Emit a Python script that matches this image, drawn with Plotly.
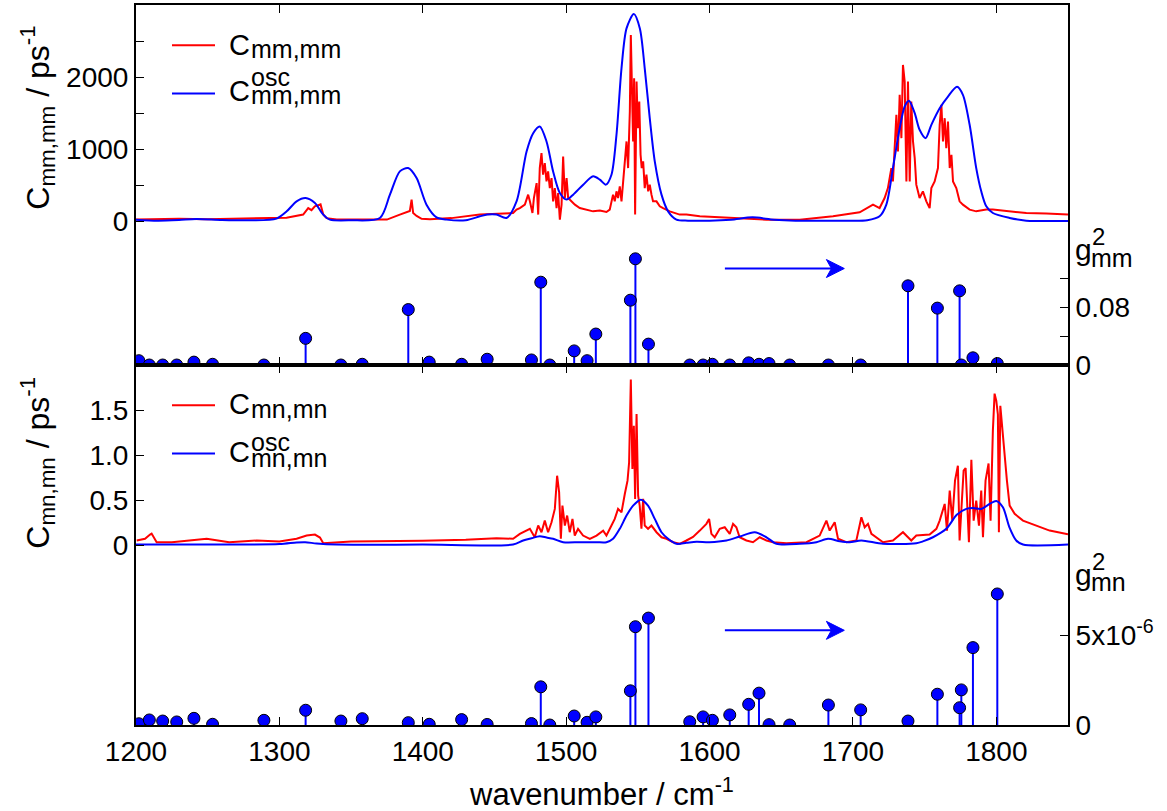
import plotly.graph_objects as go

# ---------------- data ----------------
# normal-mode frequencies (cm^-1) and couplings
modes = [1202, 1209.3, 1218.6, 1228.4, 1240.4, 1253.4, 1289.2, 1318.3, 1342.9, 1357.8,
         1389.9, 1404.5, 1427.1, 1444.9, 1475.8, 1482.3, 1488.6, 1505.6, 1514.6, 1520.7,
         1544.8, 1548.3, 1557.4, 1586.2, 1595.5, 1602.0, 1614.1, 1627.3, 1634.5, 1641.5,
         1655.9, 1682.9, 1705.4, 1738.4, 1758.9, 1774.4, 1775.6, 1783.7, 1800.7]
g2_mm = [0.006, 0.0, 0.0, 0.0, 0.004, 0.001, 0.0, 0.037, 0.0, 0.001,
         0.077, 0.004, 0.001, 0.008, 0.007, 0.115, 0.0, 0.0196, 0.006, 0.043,
         0.090, 0.1475, 0.029, 0.0, 0.0, 0.001, 0.0, 0.003, 0.001, 0.002,
         0.0, 0.0, 0.0, 0.110, 0.079, 0.103, 0.0, 0.010, 0.002]
g2_mn = [0.07e-6, 0.28e-6, 0.22e-6, 0.17e-6, 0.37e-6, 0.04e-6, 0.26e-6, 0.82e-6, 0.22e-6, 0.35e-6,
         0.13e-6, 0.04e-6, 0.30e-6, 0.03e-6, 0.08e-6, 2.12e-6, 0.0, 0.50e-6, 0.15e-6, 0.45e-6,
         1.90e-6, 5.46e-6, 5.94e-6, 0.18e-6, 0.45e-6, 0.26e-6, 0.56e-6, 1.15e-6, 1.77e-6, 0.02e-6,
         0.0, 1.11e-6, 0.84e-6, 0.22e-6, 1.71e-6, 0.96e-6, 1.95e-6, 4.30e-6, 7.28e-6]

# C_mm,mm (MD spectrum), ps^-1
wn_mm = [1200, 1215, 1230, 1250, 1270, 1290, 1300, 1305, 1316.6, 1320.1, 1322.4, 1324.7, 1327.1,
         1328.7, 1330.6, 1332.9, 1340, 1360, 1375, 1384, 1388.7, 1391, 1392.2, 1393.3, 1395.7,
         1399.2, 1405, 1420, 1439.8, 1451.4, 1463, 1465.4, 1467.7, 1471.2, 1473.5, 1474.7,
         1476.5, 1477.5, 1479.4, 1480.5, 1481.6, 1482.8, 1483.9, 1485.1, 1486.3, 1487.4, 1488.6,
         1489.8, 1490.9, 1492.1, 1493.3, 1494.4, 1495.6, 1496.8, 1497.9, 1499.1, 1500.3, 1501.4,
         1503.8, 1506.1, 1509.5, 1514.2, 1518.8, 1523.5, 1528.1, 1530.4, 1531.6, 1532.7, 1533.9,
         1535.1, 1536.2, 1537.4, 1538.6, 1539.7, 1540.9, 1542.1, 1543.2, 1544.4, 1545.1, 1546.0,
         1546.7, 1547.4, 1548.1, 1549.1, 1550.0, 1551.0, 1551.9, 1552.7, 1553.7, 1554.8, 1556.0,
         1557.2, 1558.3, 1559.5, 1560.6, 1563, 1565.3, 1567.6, 1572.3, 1579.2, 1583.9, 1593.2,
         1616.4, 1639.7, 1662.9, 1686.1, 1704.7, 1714, 1718.6, 1722.1, 1724.4, 1726.8, 1727.9,
         1729.1, 1730.3, 1731.4, 1732.6, 1733.8, 1734.9, 1736.1, 1737.3, 1738.4, 1739.6, 1740.7,
         1741.9, 1743.1, 1744.2, 1746.5, 1748.8, 1751.2, 1753.5, 1754.7, 1757, 1759.3, 1760.5,
         1761.7, 1762.8, 1764, 1765.1, 1766.3, 1767.5, 1768.7, 1769.8, 1772.1, 1774.4, 1776.7,
         1781.4, 1786, 1793, 1797.6, 1809.3, 1820.9, 1834.9, 1850]
c_mm = [20, 25, 30, 25, 30, 35, 40, 45, 89, 180, 150, 204, 218,
        230, 90, 40, 20, 15, 20, 89, 125, 140, 297, 110, 70,
        30, 25, 40, 89, 102, 111, 158, 180, 227, 366, 273,
        111, 319, 527, 89, 735, 943, 643, 804, 550, 689, 457,
        596, 273, 457, 180, 388, 19, 227, 897, 319, 596, 319,
        273, 227, 180, 158, 134, 144, 125, 158, 297, 366, 273,
        412, 319, 481, 273, 505, 828, 1105, 735, 1521, 2584, 1891,
        1105, 1982, 89, 1937, 1289, 1659, 920, 735, 828, 457, 643,
        412, 505, 366, 273, 273, 204, 180, 134, 89, 89, 65,
        42, 19, 19, 65, 120, 227, 180, 319, 457, 735, 550,
        1105, 1475, 966, 1752, 1151, 2168, 1937, 550, 1937, 550, 1659,
        1105, 873, 505, 319, 412, 273, 180, 457, 550, 735, 1336,
        1614, 1105, 1428, 1012, 1382, 735, 920, 550, 457, 273, 227,
        158, 134, 158, 158, 134, 111, 103, 89]

# C^osc_mm,mm
wn_mm_osc = [1200, 1215, 1230, 1242, 1260, 1280, 1298, 1305.1, 1312, 1318.3, 1324.8, 1330.6, 1335.2,
             1350, 1370.1, 1377.1, 1384, 1389.8, 1395.7, 1402.6, 1409.6, 1416.6, 1430, 1439.8,
             1444.9, 1451.4, 1458.4, 1465.4, 1472.4, 1477, 1481.6, 1486.3, 1490.9, 1495.6, 1500.3,
             1504.9, 1511.9, 1518.8, 1523.5, 1527.7, 1531.6, 1535.1, 1538.6, 1542.1, 1547.2, 1551.4,
             1554.8, 1558.3, 1561.8, 1566.5, 1571.1, 1576.9, 1585, 1600, 1615, 1630, 1645, 1660,
             1690, 1710, 1718.6, 1723.3, 1727.9, 1732.6, 1736.1, 1739.1, 1743.1, 1746.5, 1750.7,
             1754.7, 1760.5, 1766.3, 1772.6, 1776.7, 1781.4, 1786, 1789.5, 1793, 1797.6, 1809.3,
             1820.9, 1850]
c_mm_osc = [19, 5, 14, 28, 14, 10, 33, 134, 273, 319, 250, 89, 19,
            10, 42, 366, 689, 735, 596, 227, 51, 19, 10, 65,
            89, 89, 42, 273, 966, 1220, 1313, 1105, 689, 388, 297,
            366, 505, 620, 574, 505, 643, 1198, 2121, 2675, 2875, 2675,
            2121, 1428, 828, 366, 134, 19, 5, 5, 19, 51, 19, 5,
            5, 10, 65, 227, 735, 1289, 1590, 1669, 1497, 1267, 1151,
            1336, 1566, 1729, 1863, 1752, 1336, 735, 412, 204, 111, 42,
            5, 0]

# C_mn,mn (MD spectrum), ps^-1
wn_mn = [1200.5, 1206.3, 1209.8, 1210.9, 1214.4, 1225, 1249.3, 1265, 1284.1, 1300, 1312, 1319,
         1324.8, 1328.3, 1330.6, 1350, 1400, 1430, 1451.4, 1463, 1467.7, 1474.7, 1478.1, 1480.5,
         1482.8, 1485.1, 1487.4, 1489.8, 1492.1, 1493.7, 1495.1, 1496.3, 1497.4, 1499.1, 1500.7,
         1502.5, 1504.4, 1506.0, 1508.3, 1511.8, 1516.5, 1521.2, 1525.8, 1528.1, 1531.6, 1533.9,
         1536.2, 1538.6, 1540.9, 1542.8, 1543.9, 1545.1, 1546.2, 1547.2, 1548.1, 1549.1, 1550.2,
         1551.3, 1552.5, 1553.7, 1554.8, 1557.1, 1559.5, 1563, 1566.5, 1570, 1574.6, 1579.2,
         1583.9, 1588.5, 1593.2, 1597.8, 1599.7, 1601.3, 1603.6, 1607.1, 1610.6, 1614.1, 1616.4,
         1618.7, 1621, 1625.7, 1630.3, 1635, 1639.7, 1644.3, 1653.6, 1667.6, 1676.8, 1681.5,
         1683.8, 1687.3, 1689.6, 1695.4, 1702.4, 1705.9, 1708.2, 1710.5, 1712.9, 1716.3, 1721,
         1727.9, 1734.9, 1740.7, 1744.2, 1753.5, 1758.2, 1760.5, 1762.4, 1764, 1765.6, 1767.5,
         1769.3, 1771.2, 1773.2, 1774.4, 1776, 1777.2, 1778.6, 1779.8, 1780.9, 1782.6, 1784.2,
         1786, 1787.9, 1789.5, 1790.7, 1792.5, 1794.6, 1796, 1797.6, 1798.8, 1800, 1801.1, 1801.8,
         1802.8, 1804.2, 1805.8, 1807.4, 1809.3, 1812.8, 1818.6, 1827.9, 1837.2, 1850]
c_mn = [0.05, 0.069, 0.116, 0.127, 0.031, 0.03, 0.069, 0.03, 0.05, 0.04, 0.069, 0.105,
        0.116, 0.083, 0.02, 0.039, 0.047, 0.058, 0.075, 0.069, 0.124, 0.18, 0.086, 0.216,
        0.142, 0.271, 0.142, 0.253, 0.401, 0.77, 0.585, 0.069, 0.438, 0.216, 0.327,
        0.142, 0.29, 0.105, 0.18, 0.105, 0.069, 0.105, 0.16, 0.105, 0.216, 0.29,
        0.401, 0.363, 0.567, 0.715, 0.917, 1.84, 0.844, 1.324, 0.512, 1.454, 0.548,
        0.438, 0.18, 0.512, 0.216, 0.18, 0.216, 0.142, 0.086, 0.069, 0.031, 0.013,
        0.05, 0.09, 0.16, 0.235, 0.29, 0.124, 0.086, 0.18, 0.197, 0.124, 0.235,
        0.197, 0.086, 0.05, 0.031, 0.086, 0.05, 0.031, 0.02, 0.031, 0.105, 0.271,
        0.16, 0.253, 0.069, 0.031, 0.05, 0.308, 0.197, 0.235, 0.124, 0.086, 0.031,
        0.05, 0.142, 0.05, 0.105, 0.116, 0.18, 0.271, 0.363, 0.456, 0.16, 0.604,
        0.271, 0.715, 0.881, 0.05, 0.493, 0.826, 0.855, 0.382, 0.031, 0.947, 0.271,
        0.493, 0.216, 0.604, 0.086, 0.715, 0.906, 0.271, 1.27, 1.682, 1.60, 1.45, 0.142,
        1.546, 1.27, 1.05, 0.715, 0.438, 0.346, 0.271, 0.216, 0.16, 0.12]

# C^osc_mn,mn
wn_mn_osc = [1200, 1250, 1300, 1312, 1318, 1326, 1340, 1400, 1463, 1470, 1475.8, 1481.6, 1486.3,
             1490.9, 1497.9, 1509.5, 1521.2, 1528.1, 1532.7, 1537.4, 1542.1, 1546.7, 1552.1, 1557.1,
             1561.8, 1566.5, 1571.1, 1576.9, 1583.9, 1590.9, 1600, 1611.8, 1621, 1631.5, 1639.7,
             1646.6, 1662.9, 1674.5, 1682.6, 1690.8, 1697.7, 1705.9, 1721, 1744.2, 1748.8, 1755.8,
             1765.1, 1772.4, 1779.1, 1783.7, 1789.5, 1795.3, 1800, 1804.6, 1809.3, 1813.9, 1818.6,
             1850]
c_mn_osc = [0.005, 0.005, 0.01, 0.028, 0.031, 0.017, 0.005, 0.005, 0.005, 0.05, 0.075, 0.098, 0.083,
            0.069, 0.031, 0.031, 0.031, 0.031, 0.069, 0.18, 0.327, 0.438, 0.504, 0.438,
            0.29, 0.142, 0.069, 0.013, 0.024, 0.035, 0.031, 0.05, 0.094, 0.142, 0.086,
            0.013, 0.013, 0.031, 0.069, 0.042, 0.031, 0.05, 0.013, 0.02, 0.04, 0.086,
            0.18, 0.335, 0.401, 0.41, 0.401, 0.456, 0.49, 0.419, 0.19, 0.05, 0.005,
            0.005]

xticks = [1200, 1300, 1400, 1500, 1600, 1700, 1800]
ytick_mm = [0, 1000, 2000]
ytick_mm_minor = [500, 1500, 2500]
ytick_g_mm = [0, 0.08]
ytick_g_mm_text = ["0", "0.08"]
ytick_g_mm_minor = [0.04, 0.12]
ytick_mn = [0, 0.5, 1.0, 1.5]
ytick_mn_text = ["0", "0.5", "1.0", "1.5"]
ytick_g_mn = [0, 5e-6]
ytick_g_mn_text = ["0", "5x10<sup>-6</sup>"]

# ---------------- figure ----------------
RED = "#ff0000"
BLUE = "#0000ff"
FONT = "Liberation Sans, Arial, Helvetica, sans-serif"
W, H = 1167, 811
L, R, T, B = 136, 99, 3, 86


def stems(xv, yv):
    xs, ys = [], []
    for a, b in zip(xv, yv):
        xs += [a, a, None]
        ys += [0, b, None]
    return xs, ys


fig = go.Figure()
# top panel spectra
fig.add_trace(go.Scatter(x=wn_mm, y=c_mm, mode="lines", line=dict(color=RED, width=2),
                         xaxis="x", yaxis="y", showlegend=False))
fig.add_trace(go.Scatter(x=wn_mm_osc, y=c_mm_osc, mode="lines",
                         line=dict(color=BLUE, width=2, shape="spline", smoothing=0.8),
                         xaxis="x", yaxis="y", showlegend=False))
sx, sy = stems(modes, g2_mm)
fig.add_trace(go.Scatter(x=sx, y=sy, mode="lines", line=dict(color=BLUE, width=2),
                         xaxis="x", yaxis="y2", showlegend=False))
fig.add_trace(go.Scatter(x=modes, y=g2_mm, mode="markers",
                         marker=dict(color=BLUE, size=12, line=dict(color="black", width=1)),
                         xaxis="x", yaxis="y2", showlegend=False))
# bottom panel spectra
fig.add_trace(go.Scatter(x=wn_mn, y=c_mn, mode="lines", line=dict(color=RED, width=2),
                         xaxis="x2", yaxis="y3", showlegend=False))
fig.add_trace(go.Scatter(x=wn_mn_osc, y=c_mn_osc, mode="lines",
                         line=dict(color=BLUE, width=2, shape="spline", smoothing=0.8),
                         xaxis="x2", yaxis="y3", showlegend=False))
sx, sy = stems(modes, g2_mn)
fig.add_trace(go.Scatter(x=sx, y=sy, mode="lines", line=dict(color=BLUE, width=2),
                         xaxis="x2", yaxis="y4", showlegend=False))
fig.add_trace(go.Scatter(x=modes, y=g2_mn, mode="markers",
                         marker=dict(color=BLUE, size=12, line=dict(color="black", width=1)),
                         xaxis="x2", yaxis="y4", showlegend=False))

axcommon = dict(showline=True, linewidth=2, linecolor="black", ticks="inside", ticklen=8,
                tickwidth=1, tickcolor="black", showgrid=False, zeroline=False,
                tickfont=dict(family=FONT, size=28, color="black"))


def minor(vals):
    return dict(tickmode="array", tickvals=vals, ticks="inside", ticklen=8, tickwidth=1,
                tickcolor="black", showgrid=False)


fig.update_layout(
    width=W, height=H, margin=dict(l=L, r=R, t=T, b=B),
    paper_bgcolor="white", plot_bgcolor="white", showlegend=False,
    xaxis=dict(domain=[0, 1], anchor="y", range=[1200, 1850], tickvals=xticks,
               showticklabels=False, mirror="ticks", **axcommon),
    xaxis2=dict(domain=[0, 1], anchor="y3", range=[1200, 1850], tickvals=xticks,
                matches="x", mirror="ticks", **axcommon),
    yaxis=dict(domain=[0.5, 1], anchor="x", range=[-2000, 3000], tickvals=ytick_mm,
               minor=minor(ytick_mm_minor), **axcommon),
    yaxis2=dict(overlaying="y", anchor="x", side="right", range=[0, 0.5], tickvals=ytick_g_mm,
                ticktext=ytick_g_mm_text, minor=minor(ytick_g_mm_minor), **axcommon),
    yaxis3=dict(domain=[0, 0.5], anchor="x2", range=[-2, 2], tickvals=ytick_mn,
                ticktext=ytick_mn_text, **axcommon),
    yaxis4=dict(overlaying="y3", anchor="x2", side="right", range=[0, 2e-5], tickvals=ytick_g_mn,
                ticktext=ytick_g_mn_text, **axcommon),
)


def pxx(x):
    return (x - L) / (W - L - R)


def pyy(y):
    return (H - B - y) / (H - T - B)


def label(text, x, y, size, xanchor="left", yanchor="middle", angle=0):
    fig.add_annotation(text=text, x=pxx(x), y=pyy(y), xref="paper", yref="paper",
                       xanchor=xanchor, yanchor=yanchor, showarrow=False, textangle=angle,
                       font=dict(family=FONT, size=size, color="black"), borderpad=0)


def legline(y, color):
    fig.add_shape(type="line", xref="paper", yref="paper", x0=pxx(172), x1=pxx(215),
                  y0=pyy(y), y1=pyy(y), line=dict(color=color, width=2))


# legends
legline(43.3, RED)
label("C", 228, 43.5, 29)
label("mm,mm", 250, 47.5, 25)
legline(91.7, BLUE)
label("C", 228, 89.5, 29)
label("osc", 250, 75.5, 25)
label("mm,mm", 250, 93, 25)

legline(404.3, RED)
label("C", 228, 403.5, 29)
label("mn,mn", 250, 408.5, 25)
legline(452.7, BLUE)
label("C", 228, 451.7, 29)
label("osc", 250, 441.5, 25)
label("mn,mn", 250, 457, 25)

# right-axis labels g^2
label("g", 1074, 248, 30)
label("2", 1091, 235, 24)
label("mm", 1090, 256.5, 25)
label("g", 1074, 574, 30)
label("2", 1091, 561, 24)
label("mn", 1090, 582, 25)

# axis titles
label("C<sub>mm,mm</sub> / ps<sup>-1</sup>", 38, 116, 32, xanchor="center", angle=-90)
label("C<sub>mn,mn</sub> / ps<sup>-1</sup>", 38, 462, 32, xanchor="center", angle=-90)
label("wavenumber / cm<sup>-1</sup>", 601, 792, 31, xanchor="center")


# arrows pointing to the right axes (line + notched head), drawn as shapes
def arrow(xr, yr, x0, x1, yv, half_h):
    fig.add_shape(type="line", xref=xr, yref=yr, x0=x0, x1=x1 - 8, y0=yv, y1=yv,
                  line=dict(color=BLUE, width=2))
    path = (f"M {x1},{yv} L {x1 - 12.5},{yv + half_h} L {x1 - 9},{yv} "
            f"L {x1 - 12.5},{yv - half_h} Z")
    fig.add_shape(type="path", xref=xr, yref=yr, path=path, fillcolor=BLUE,
                  line=dict(color=BLUE, width=1))


arrow("x", "y2", 1610.7, 1694, 0.134, 0.0125)
arrow("x2", "y4", 1610.7, 1694, 5.26e-6, 5.0e-7)

fig.write_html("out.html", config={"displayModeBar": False},
               post_script="document.body.style.margin='0';")
